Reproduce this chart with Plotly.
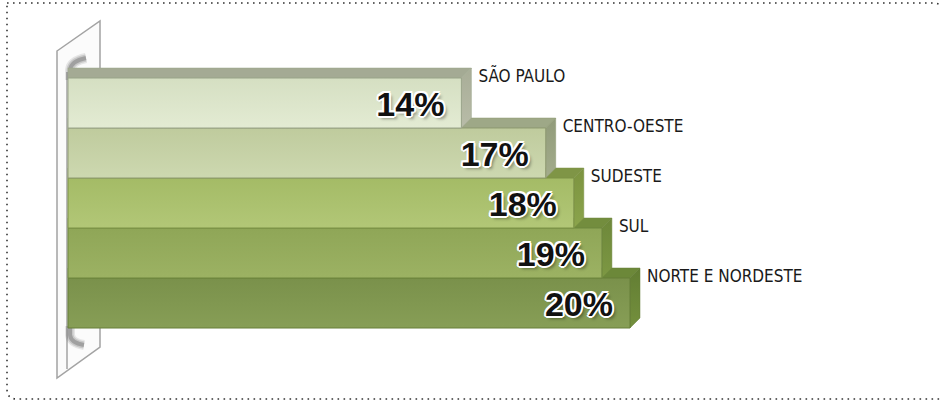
import plotly.graph_objects as go

# ---------------- data ----------------
categories = ["SÃO PAULO", "CENTRO-OESTE", "SUDESTE", "SUL", "NORTE E NORDESTE"]
values = [14, 17, 18, 19, 20]
value_labels = ["14%", "17%", "18%", "19%", "20%"]

# ---------------- style ----------------
front_top = ["#e3ebd3", "#cdd8b0", "#b2c777", "#9cb263", "#879e56"]
front_bot = ["#d5dfc2", "#bfcb9d", "#a4bb66", "#8fa657", "#7a914b"]
top_cols = ["#a4aa94", "#9ea887", "#7f9546", "#738d3e", "#6c8839"]
side_top = ["#b8bca8", "#a3ac8c", "#8ba44c", "#7d9843", "#74903d"]
side_bot = ["#a8ad97", "#919b7a", "#7c9340", "#6d873a", "#627d33"]
edge_cols = ["#9aa48a", "#8f9b72", "#7d9246", "#6f873f", "#667f39"]

W, H = 941, 401
X0_PX = 68          # pixel of value 0
PX_PER_UNIT = 28.1  # pixels per percentage point
Y0_PX = 103         # pixel centre of first bar
BAR_PX = 50         # pixel height of a bar
DX = 10 / PX_PER_UNIT
DY = 10 / BAR_PX

x_range = [-X0_PX / PX_PER_UNIT, (W - X0_PX) / PX_PER_UNIT]
y_range = [(H - Y0_PX) / BAR_PX, -Y0_PX / BAR_PX]


def px(x):
    return x / W


def py(y):
    return 1 - y / H


fig = go.Figure()

n = len(values)
# draw from bottom bar to top bar so upper bars overlap the top faces below
for i in reversed(range(n)):
    v = values[i]
    # top face
    fig.add_trace(go.Scatter(
        x=[0, v, v + DX, 0, 0],
        y=[i - 0.5, i - 0.5, i - 0.5 - DY, i - 0.5 - DY, i - 0.5],
        mode="lines", fill="toself", fillcolor=top_cols[i],
        line=dict(color=edge_cols[i], width=0.5),
        hoverinfo="skip", showlegend=False))
    # side face
    fig.add_trace(go.Scatter(
        x=[v, v + DX, v + DX, v, v],
        y=[i - 0.5, i - 0.5 - DY, i + 0.5 - DY, i + 0.5, i - 0.5],
        mode="lines", fill="toself",
        fillgradient=dict(type="vertical",
                          colorscale=[[0, side_top[i]], [1, side_bot[i]]]),
        line=dict(color=edge_cols[i], width=0.5),
        hoverinfo="skip", showlegend=False))
    # front face
    fig.add_trace(go.Scatter(
        x=[0, v, v, 0, 0],
        y=[i - 0.5, i - 0.5, i + 0.5, i + 0.5, i - 0.5],
        mode="lines", fill="toself",
        fillgradient=dict(type="vertical",
                          colorscale=[[0, front_top[i]], [1, front_bot[i]]]),
        line=dict(color=edge_cols[i], width=1),
        hoverinfo="skip", showlegend=False))

# category labels
fig.add_trace(go.Scatter(
    x=[v + DX + 7 / PX_PER_UNIT for v in values],
    y=[i - 0.5 for i in range(n)],
    mode="text", text=categories, textposition="middle right",
    textfont=dict(family="DejaVu Sans Condensed, sans-serif",
                  size=17, color="#1a1a1a"),
    hoverinfo="skip", showlegend=False))

# value labels
outline = ("2px 0 0 #fff, -2px 0 0 #fff, 0 2px 0 #fff, 0 -2px 0 #fff, "
           "1.5px 1.5px 0 #fff, -1.5px -1.5px 0 #fff, 1.5px -1.5px 0 #fff, "
           "-1.5px 1.5px 0 #fff, 3px 3px 3px rgba(0,0,0,0.35)")
fig.add_trace(go.Scatter(
    x=[v - 17 / PX_PER_UNIT for v in values],
    y=[i + 0.08 for i in range(n)],
    mode="text", text=value_labels, textposition="middle left",
    textfont=dict(family="Liberation Sans, Arial, sans-serif",
                  size=34, color="#111111", weight="bold", shadow=outline),
    hoverinfo="skip", showlegend=False))

shapes = []
# dotted frame (right edge sits just outside the canvas)
r = 10
frame = (f"M {px(7)},{py(3)} L {px(943 - r)},{py(3)} "
         f"Q {px(943)},{py(3)} {px(943)},{py(3 + r)} "
         f"L {px(943)},{py(399)} L {px(7 + r)},{py(399)} "
         f"Q {px(7)},{py(399)} {px(7)},{py(399 - r)} Z")
shapes.append(dict(type="path", xref="paper", yref="paper", path=frame,
                   line=dict(color="#333333", width=1.6, dash="1.6px,4.4px"),
                   layer="below"))
# wall panel
wall = (f"M {px(57)},{py(51)} L {px(100)},{py(21)} L {px(100)},{py(347)} "
        f"L {px(57)},{py(378)} Z")
shapes.append(dict(type="path", xref="paper", yref="paper", path=wall,
                   fillcolor="#fbfbfb", line=dict(color="#a3a3a3", width=1.5),
                   layer="below"))
shapes.append(dict(type="line", xref="paper", yref="paper",
                   x0=px(67), y0=py(72), x1=px(67), y1=py(369),
                   line=dict(color="#a3a3a3", width=1.5), layer="below"))
# wall shadows (soft strokes)
for w_, a_ in [(10, 0.12), (7, 0.18), (4, 0.3)]:
    shapes.append(dict(type="path", xref="paper", yref="paper",
                       path=f"M {px(70)},{py(80)} L {px(70)},{py(70)} "
                            f"Q {px(71)},{py(61)} {px(86)},{py(58)}",
                       line=dict(color=f"rgba(70,70,70,{a_})", width=w_),
                       layer="below"))
    shapes.append(dict(type="path", xref="paper", yref="paper",
                       path=f"M {px(70)},{py(326)} L {px(70)},{py(335)} "
                            f"Q {px(71)},{py(343)} {px(84)},{py(345)}",
                       line=dict(color=f"rgba(70,70,70,{a_})", width=w_),
                       layer="below"))

fig.update_layout(
    width=W, height=H,
    margin=dict(l=0, r=0, t=0, b=0),
    paper_bgcolor="white", plot_bgcolor="white",
    xaxis=dict(range=x_range, visible=False, fixedrange=True),
    yaxis=dict(range=y_range, visible=False, fixedrange=True),
    shapes=shapes,
    showlegend=False,
)

fig.write_html("out.html", config={"displayModeBar": False},
               post_script="document.body.style.margin='0';document.body.style.overflow='hidden';")
